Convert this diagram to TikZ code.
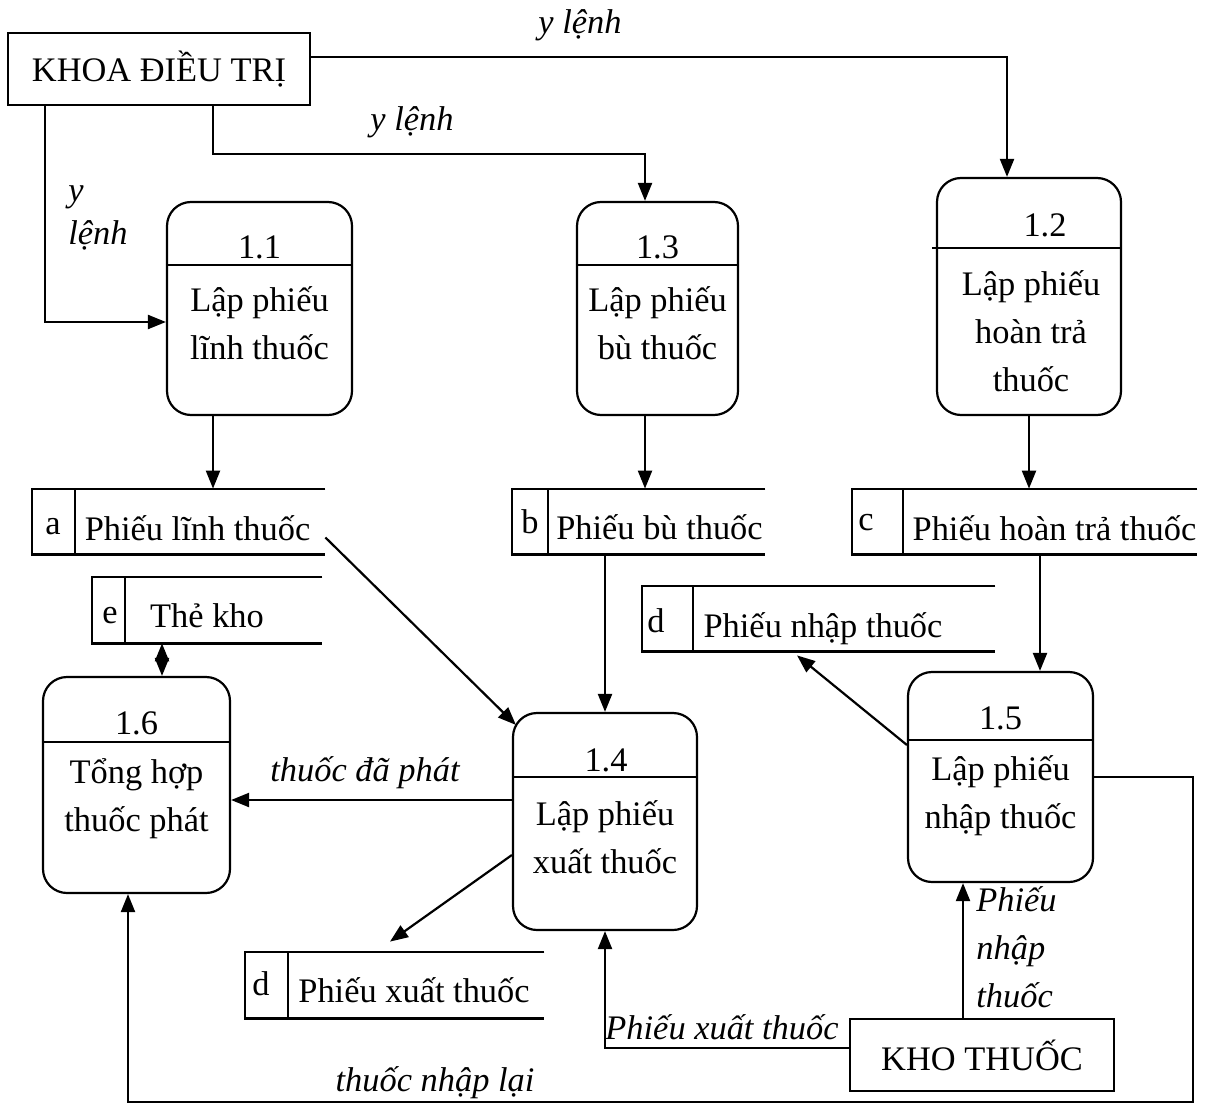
\documentclass[tikz,border=0pt]{standalone}
\usepackage{fontspec}
\setmainfont{Liberation Serif}
\usetikzlibrary{arrows.meta}
\newcommand{\dfdsize}{\fontsize{17.2}{24}\selectfont}
\tikzset{
  line/.style={line width=1.1pt},
  ext/.style={draw, line width=1.1pt, inner sep=0pt, font=\dfdsize},
  proc/.style={draw, line width=1.1pt, rounded corners=12pt, inner sep=0pt},
  store/.style={inner sep=0pt},
  txt/.style={inner sep=0pt, align=center, font=\dfdsize},
  lbl/.style={inner sep=0pt, font=\dfdsize\itshape},
  flow/.style={line width=1.1pt, -{Triangle[length=9pt,width=7pt]}},
  biflow/.style={line width=1.1pt, {Triangle[length=9pt,width=7pt]}-{Triangle[length=9pt,width=7pt]}},
}
\begin{document}
\begin{tikzpicture}[x=0.5pt, y=-0.5pt]
    \useasboundingbox (0,0) rectangle (1213,1106);

    % tac nhan ngoai
    \node[ext, minimum width=151pt, minimum height=36pt] (kdt) at (159,69) {KHOA ĐIỀU TRỊ};
    \node[ext, minimum width=132pt, minimum height=36pt] (kho) at (982,1055) {KHO THUỐC};

    % tien trinh
    \node[proc, minimum width=92.5pt, minimum height=106.5pt] (p11) at (259.5,308.5) {};
    \node[txt] (p11n) at (259.5,247) {1.1};
    \node[txt] (p11t) at (259.5,323) {Lập phiếu\\lĩnh thuốc};
    \draw[line] ([yshift=21.75pt]p11.west) -- ([yshift=21.75pt]p11.east);

    \node[proc, minimum width=80.5pt, minimum height=106.5pt] (p13) at (657.5,308.5) {};
    \node[txt] (p13n) at (657.5,247) {1.3};
    \node[txt] (p13t) at (657.5,323) {Lập phiếu\\bù thuốc};
    \draw[line] ([yshift=21.75pt]p13.west) -- ([yshift=21.75pt]p13.east);

    \node[proc, minimum width=92pt, minimum height=118.5pt] (p12) at (1029,296.5) {};
    \node[txt] (p12n) at (1045,225) {1.2};
    \node[txt] (p12t) at (1031,331) {Lập phiếu\\hoàn trả\\thuốc};
    \draw[line] ([xshift=-2pt,yshift=24.25pt]p12.west) -- ([yshift=24.25pt]p12.east);

    \node[proc, minimum width=93.5pt, minimum height=108pt] (p16) at (136.5,785) {};
    \node[txt] (p16n) at (136.5,723) {1.6};
    \node[txt] (p16t) at (136.5,799) {Tổng hợp\\thuốc phát};
    \draw[line] ([yshift=21.5pt]p16.west) -- ([yshift=21.5pt]p16.east);

    \node[proc, minimum width=92pt, minimum height=108.5pt] (p14) at (605,821.5) {};
    \node[txt] (p14n) at (606,760) {1.4};
    \node[txt] (p14t) at (605,837) {Lập phiếu\\xuất thuốc};
    \draw[line] ([yshift=22.25pt]p14.west) -- ([yshift=22.25pt]p14.east);

    \node[proc, minimum width=92.5pt, minimum height=105pt] (p15) at (1000.5,777) {};
    \node[txt] (p15n) at (1000.5,718) {1.5};
    \node[txt] (p15t) at (1000.5,796) {Lập phiếu\\nhập thuốc};
    \draw[line] ([yshift=18.5pt]p15.west) -- ([yshift=18.5pt]p15.east);

    % kho du lieu
    \node[store, minimum width=146.5pt, minimum height=32.5pt] (sA) at (178.5,521.5) {};
    \draw[line] (sA.north east) -- (sA.north west) -- (sA.south west) -- (sA.south east);
    \draw[line] ([xshift=21.5pt]sA.north west) -- ([xshift=21.5pt]sA.south west);
    \node[txt, anchor=base] (sAid) at (53,534) {a};
    \node[txt, anchor=base] (sAt) at (197.5,540) {Phiếu lĩnh thuốc};

    \node[store, minimum width=126.5pt, minimum height=32.5pt] (sB) at (638.5,521.5) {};
    \draw[line] (sB.north east) -- (sB.north west) -- (sB.south west) -- (sB.south east);
    \draw[line] ([xshift=18pt]sB.north west) -- ([xshift=18pt]sB.south west);
    \node[txt, anchor=base] (sBid) at (530,533) {b};
    \node[txt, anchor=base] (sBt) at (659.5,539) {Phiếu bù thuốc};

    \node[store, minimum width=172.5pt, minimum height=32.5pt] (sC) at (1024.5,521.5) {};
    \draw[line] (sC.north east) -- (sC.north west) -- (sC.south west) -- (sC.south east);
    \draw[line] ([xshift=25.5pt]sC.north west) -- ([xshift=25.5pt]sC.south west);
    \node[txt, anchor=base] (sCid) at (866,530) {c};
    \node[txt, anchor=base] (sCt) at (1054.5,540) {Phiếu hoàn trả thuốc};

    \node[store, minimum width=115pt, minimum height=33pt] (sE) at (207,610) {};
    \draw[line] (sE.north east) -- (sE.north west) -- (sE.south west) -- (sE.south east);
    \draw[line] ([xshift=16.5pt]sE.north west) -- ([xshift=16.5pt]sE.south west);
    \node[txt, anchor=base] (sEid) at (110,623) {e};
    \node[txt, anchor=base] (sEt) at (207,627) {Thẻ kho};

    \node[store, minimum width=176.5pt, minimum height=32.5pt] (sDN) at (818.5,618.5) {};
    \draw[line] (sDN.north east) -- (sDN.north west) -- (sDN.south west) -- (sDN.south east);
    \draw[line] ([xshift=25.5pt]sDN.north west) -- ([xshift=25.5pt]sDN.south west);
    \node[txt, anchor=base] (sDNid) at (656,632) {d};
    \node[txt, anchor=base] (sDNt) at (823,637) {Phiếu nhập thuốc};

    \node[store, minimum width=149.5pt, minimum height=33pt] (sDX) at (394.5,985) {};
    \draw[line] (sDX.north east) -- (sDX.north west) -- (sDX.south west) -- (sDX.south east);
    \draw[line] ([xshift=21.5pt]sDX.north west) -- ([xshift=21.5pt]sDX.south west);
    \node[txt, anchor=base] (sDXid) at (261,995) {d};
    \node[txt, anchor=base] (sDXt) at (414,1002) {Phiếu xuất thuốc};

    % luong du lieu
    \draw[flow] ([yshift=6pt]kdt.east) -| ([xshift=-11pt]p12.north);
    \draw[flow] ([xshift=27pt]kdt.south) -- ++(0,48) -| ([xshift=-6.25pt]p13.north);
    \draw[flow] ([xshift=-57pt]kdt.south) |- ([yshift=-6.75pt]p11.west);
    \node[lbl] (lYl1) at (580,25) {y lệnh};
    \node[lbl] (lYl2) at (412,122) {y lệnh};
    \node[lbl, align=left, anchor=west, font=\fontsize{17.2}{21.5}\selectfont\itshape] (lYl3) at (68,218) {y\\lệnh};

    \draw[flow] ([xshift=-23.25pt]p11.south) -- ([xshift=-23.25pt]p11.south |- sA.north);
    \draw[flow] ([xshift=-6.25pt]p13.south) -- ([xshift=-6.25pt]p13.south |- sB.north);
    \draw[flow] (p12.south) -- (p12.south |- sC.north);

    \draw[flow] ([yshift=-8pt]sA.east) -- ([xshift=2pt,yshift=-6.5pt]p14.north west);
    \draw[flow] (p14.north |- sB.south) -- (p14.north);
    \draw[flow] ([xshift=19.75pt]p15.north |- sC.south) -- ([xshift=19.75pt]p15.north);
    \draw[biflow] ([xshift=12.75pt]p16.north |- sE.south) -- ([xshift=12.75pt]p16.north);

    \draw[flow] ([yshift=10.75pt]p14.west) -- ([yshift=10.75pt]p14.west -| p16.east);
    \node[lbl] (lDaPhat) at (365,773) {thuốc đã phát};
    \draw[flow] ([yshift=-16.75pt]p14.west) -- ([xshift=-2.25pt,yshift=5pt]sDX.north);
    \draw[flow] ([yshift=16pt]p15.west) -- ([xshift=-10.75pt,yshift=-2pt]sDN.south);

    \draw[flow] ([yshift=3.5pt]kho.west) -| (p14.south);
    \node[lbl] (lPxt) at (722,1027) {Phiếu xuất thuốc};
    \draw[flow] ([xshift=-9.5pt]kho.north) -- ([xshift=-9.5pt]kho.north |- p15.south);
    \node[lbl, align=left, anchor=west] (lPnt) at (976,947) {Phiếu\\nhập\\thuốc};

    \coordinate (retR) at (1193,1102);
    \draw[flow] (p15.east) -| (retR) -| ([xshift=-4.25pt]p16.south);
    \node[lbl] (lNhapLai) at (435,1083) {thuốc nhập lại};
\end{tikzpicture}
\end{document}
